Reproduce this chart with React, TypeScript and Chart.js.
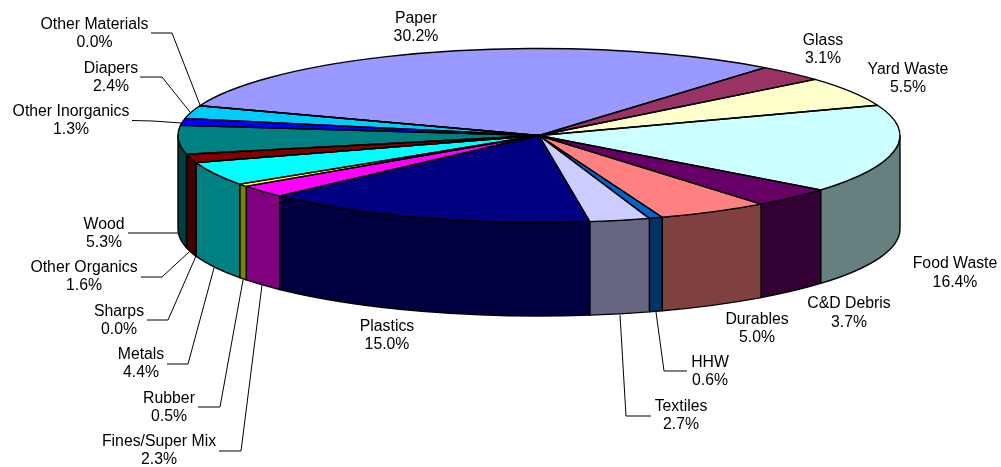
import React, { useEffect, useRef } from "react";
import { Chart, registerables } from "chart.js";

Chart.register(...registerables);

const categories = ["Paper", "Glass", "Yard Waste", "Food Waste", "C&D Debris", "Durables", "HHW", "Textiles", "Plastics", "Fines/Super Mix", "Rubber", "Metals", "Sharps", "Other Organics", "Wood", "Other Inorganics", "Diapers", "Other Materials"];
const shares = [30.2, 3.1, 5.5, 16.4, 3.7, 5.0, 0.6, 2.7, 15.0, 2.3, 0.5, 4.4, 0.0, 1.6, 5.3, 1.3, 2.4, 0.0];
const topColors = ["#9999FF", "#993366", "#FFFFCC", "#CCFFFF", "#660066", "#FF8080", "#0066CC", "#CCCCFF", "#000080", "#FF00FF", "#FFFF00", "#00FFFF", "#FF0000", "#800000", "#008080", "#0000FF", "#00CCFF", "#CCFFCC"];

// Label layout, by category: text centre x, first-line y, and optional leader polyline
const labelLayout: Record<string, { x: number; y: number; leader?: number[][] }> = {
  "Paper": { x: 416, y: 18.5 },
  "Glass": { x: 823, y: 40.5 },
  "Yard Waste": { x: 908, y: 69.5 },
  "Food Waste": { x: 955, y: 264 },
  "C&D Debris": { x: 849, y: 304 },
  "Durables": { x: 757, y: 319.5 },
  "HHW": { x: 710, y: 362.5, leader: [[687, 371], [664, 371], [656, 312]] },
  "Textiles": { x: 681, y: 406.5, leader: [[651, 416], [626, 416], [620, 315]] },
  "Plastics": { x: 387, y: 326.5 },
  "Fines/Super Mix": { x: 159, y: 441.5, leader: [[219, 451], [241, 451], [262, 285]] },
  "Rubber": { x: 169, y: 398.5, leader: [[198, 407], [220, 407], [243, 280]] },
  "Metals": { x: 141, y: 354.5, leader: [[167, 364], [188, 364], [214, 268]] },
  "Sharps": { x: 119, y: 311.5, leader: [[147, 320], [168, 320], [196, 256]] },
  "Other Organics": { x: 84, y: 267.5, leader: [[141, 277], [162, 277], [189, 252]] },
  "Wood": { x: 104, y: 224.5, leader: [[128, 233], [178, 233]] },
  "Other Inorganics": { x: 71, y: 111.5, leader: [[132, 120.5], [153, 121], [181, 123]] },
  "Diapers": { x: 111, y: 68.5, leader: [[140, 77], [162, 77], [190, 112]] },
  "Other Materials": { x: 94.5, y: 24.5, leader: [[151, 33], [172, 33], [200, 105]] },
};

const ELLIPSE = { cx: 539, cy: 135.5, rx: 361, ry: 87, depth: 93.5 };
const FONT = '15.8px "Liberation Sans", Arial, sans-serif';

function halfTone(hex: string) {
  const n = parseInt(hex.slice(1), 16);
  const r = (n >> 16) & 255, g = (n >> 8) & 255, b = n & 255;
  return `rgb(${Math.round(r / 2)},${Math.round(g / 2)},${Math.round(b / 2)})`;
}

function frontSpans(a: number, b: number) {
  const out: number[][] = [];
  const T = Math.PI * 2;
  for (let k = -1; k <= 2; k++) {
    const s = Math.max(a, k * T), e = Math.min(b, k * T + Math.PI);
    if (e > s) out.push([s, e]);
  }
  return out;
}

const pie3d = {
  id: "pie3d",
  beforeDatasetsDraw(chart: any) {
    const { ctx } = chart;
    const { cx, cy, rx, ry, depth } = ELLIPSE;
    const arcs = chart.getDatasetMeta(0).data;
    ctx.save();
    ctx.lineJoin = "round";
    // side walls
    arcs.forEach((arc: any, i: number) => {
      const { startAngle, endAngle } = arc.getProps(["startAngle", "endAngle"], true);
      frontSpans(startAngle, endAngle).forEach(([s, e]) => {
        ctx.beginPath();
        ctx.ellipse(cx, cy, rx, ry, 0, s, e);
        ctx.ellipse(cx, cy + depth, rx, ry, 0, e, s, true);
        ctx.closePath();
        ctx.fillStyle = halfTone(topColors[i]);
        ctx.fill();
        ctx.strokeStyle = "#000";
        ctx.lineWidth = 1.4;
        ctx.stroke();
      });
    });
    ctx.restore();
    // squash the library's own arcs to the pie's ellipse
    const first = arcs[0];
    const { x, y, outerRadius } = first.getProps(["x", "y", "outerRadius"], true);
    ctx.save();
    ctx.translate(cx, cy);
    ctx.scale(rx / outerRadius, ry / outerRadius);
    ctx.translate(-x, -y);
  },
  afterDatasetsDraw(chart: any) {
    const { ctx } = chart;
    ctx.restore();
    const { cx, cy, rx, ry } = ELLIPSE;
    const arcs = chart.getDatasetMeta(0).data;
    ctx.save();
    ctx.strokeStyle = "#000";
    ctx.lineWidth = 1.4;
    ctx.lineJoin = "round";
    arcs.forEach((arc: any) => {
      const { startAngle, endAngle } = arc.getProps(["startAngle", "endAngle"], true);
      ctx.beginPath();
      ctx.moveTo(cx, cy);
      ctx.ellipse(cx, cy, rx, ry, 0, startAngle, endAngle);
      ctx.closePath();
      ctx.stroke();
    });
    ctx.restore();

    // labels and leader lines
    ctx.save();
    ctx.font = FONT;
    ctx.textAlign = "center";
    ctx.textBaseline = "middle";
    categories.forEach((name, i) => {
      const l = labelLayout[name];
      ctx.fillStyle = "#000";
      ctx.fillText(name, l.x, l.y);
      ctx.fillText(`${shares[i].toFixed(1)}%`, l.x, l.y + 18.5);
      if (l.leader) {
        ctx.beginPath();
        l.leader.forEach(([px, py], j) => (j ? ctx.lineTo(px, py) : ctx.moveTo(px, py)));
        ctx.strokeStyle = "#000";
        ctx.lineWidth = 1;
        ctx.stroke();
      }
    });
    ctx.restore();
  },
};

export default function App() {
  const ref = useRef<HTMLCanvasElement>(null);
  useEffect(() => {
    const chart = new Chart(ref.current as HTMLCanvasElement, {
      type: "pie",
      data: {
        labels: categories,
        datasets: [{ data: shares, backgroundColor: topColors, borderWidth: 0, clip: false } as any],
      },
      options: {
        responsive: false,
        animation: false,
        rotation: 290,
        plugins: { legend: { display: false }, tooltip: { enabled: false } },
      },
      plugins: [pie3d],
    } as any);
    return () => chart.destroy();
  }, []);
  return (
    <div style={{ position: "absolute", left: 0, top: 0, width: 1001, height: 467, background: "#fff" }}>
      <canvas ref={ref} width={1001} height={467} style={{ display: "block" }} />
    </div>
  );
}
